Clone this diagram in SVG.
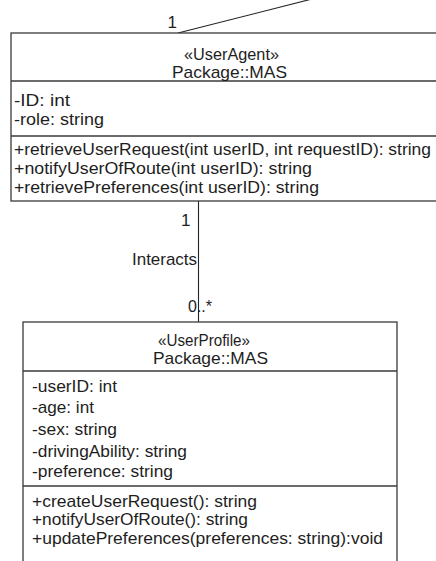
<svg xmlns="http://www.w3.org/2000/svg" width="436" height="561" viewBox="0 0 436 561">
<style>
  text { font-family: "Liberation Sans", Arial, sans-serif; fill: #1e1e1e; }
  .box { fill: #ffffff; stroke: #3a3a3a; stroke-width: 1.3; }
  .div { stroke: #3a3a3a; stroke-width: 1.3; }
  .e { text-anchor: end; }
  .conn { stroke: #222; stroke-width: 1.1; fill: none; }
</style>
<rect width="436" height="561" fill="#ffffff"/>
<g id="connectors" font-size="17">
  <line class="conn" x1="178" y1="33" x2="312" y2="-1"/>
  <text class="e" x="177" y="28">1</text>
  <line class="conn" x1="198.5" y1="201" x2="198.5" y2="322"/>
  <text class="e" x="190.5" y="226">1</text>
  <text class="e" x="197" y="265" textLength="65" lengthAdjust="spacingAndGlyphs">Interacts</text>
  <text x="188" y="312" textLength="24" lengthAdjust="spacingAndGlyphs">0..*</text>
</g>
<g id="UserAgent" font-size="17">
  <rect class="box" x="11" y="33" width="440" height="168"/>
  <line class="div" x1="11" y1="81" x2="436" y2="81"/>
  <line class="div" x1="11" y1="136" x2="436" y2="136"/>
  <text x="184" y="60" textLength="95" lengthAdjust="spacingAndGlyphs">«UserAgent»</text>
  <text x="172" y="78" textLength="115" lengthAdjust="spacingAndGlyphs">Package::MAS</text>
  <text x="14" y="106" textLength="56" lengthAdjust="spacingAndGlyphs">-ID: int</text>
  <text x="14" y="125" textLength="90" lengthAdjust="spacingAndGlyphs">-role: string</text>
  <text x="14" y="154.5" textLength="417" lengthAdjust="spacingAndGlyphs">+retrieveUserRequest(int userID, int requestID): string</text>
  <text x="14" y="173.5" textLength="298" lengthAdjust="spacingAndGlyphs">+notifyUserOfRoute(int userID): string</text>
  <text x="14" y="192.5" textLength="305" lengthAdjust="spacingAndGlyphs">+retrievePreferences(int userID): string</text>
</g>
<g id="UserProfile" font-size="17">
  <rect class="box" x="23" y="322" width="374" height="250"/>
  <line class="div" x1="23" y1="371" x2="397" y2="371"/>
  <line class="div" x1="23" y1="486" x2="397" y2="486"/>
  <text x="158" y="346" textLength="92" lengthAdjust="spacingAndGlyphs">«UserProfile»</text>
  <text x="153" y="364" textLength="115" lengthAdjust="spacingAndGlyphs">Package::MAS</text>
  <text x="32" y="391.5" textLength="85" lengthAdjust="spacingAndGlyphs">-userID: int</text>
  <text x="32" y="413" textLength="62" lengthAdjust="spacingAndGlyphs">-age: int</text>
  <text x="32" y="434.5" textLength="85" lengthAdjust="spacingAndGlyphs">-sex: string</text>
  <text x="32" y="456.5" textLength="155" lengthAdjust="spacingAndGlyphs">-drivingAbility: string</text>
  <text x="32" y="477" textLength="141" lengthAdjust="spacingAndGlyphs">-preference: string</text>
  <text x="32" y="506.5" textLength="225" lengthAdjust="spacingAndGlyphs">+createUserRequest(): string</text>
  <text x="32" y="525" textLength="216" lengthAdjust="spacingAndGlyphs">+notifyUserOfRoute(): string</text>
  <text x="32" y="543.5" textLength="351" lengthAdjust="spacingAndGlyphs">+updatePreferences(preferences: string):void</text>
</g>
</svg>
